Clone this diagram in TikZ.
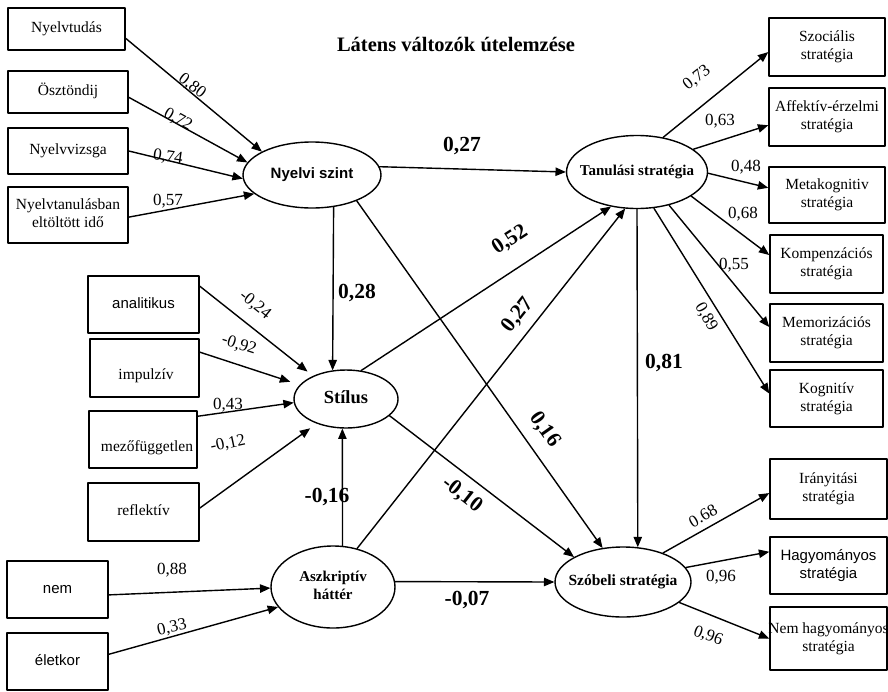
\documentclass[tikz,border=0pt]{standalone}
\usepackage{fontspec}
\setmainfont{Liberation Serif}
\setsansfont{Liberation Sans}
\usetikzlibrary{arrows,shapes.geometric}
\newcommand{\boxlines}[1]{\makebox[0pt]{\begin{tabular}{@{}c@{}}#1\end{tabular}}}
\tikzset{
  obs/.style={draw,rectangle,line width=1.6pt,inner sep=0pt,font=\fontsize{15.5}{18}\selectfont},
  obssf/.style={obs,font=\sffamily\fontsize{15}{18}\selectfont},
  txt/.style={inner sep=0pt,font=\fontsize{15.5}{18}\selectfont},
  lat/.style={draw,ellipse,line width=1.4pt,inner sep=0pt,font=\bfseries\fontsize{15}{18}\selectfont},
  wt/.style={inner sep=0pt,font=\fontsize{17}{20}\selectfont},
  coef/.style={inner sep=0pt,font=\bfseries\fontsize{21.5}{24}\selectfont},
  conn/.style={->,line width=1.4pt}
}
\begin{document}
\begin{tikzpicture}[line cap=round,line join=round,>=triangle 45,x=1pt,y=-1pt]
\useasboundingbox (0,0) rectangle (888,691);
\node[font=\bfseries\fontsize{20.5}{24}\selectfont] (title) at (456,45) {Látens változók útelemzése};
% bal oldali dobozok
\node[obs,minimum width=117pt,minimum height=42pt] (nyelvtudas) at (66.5,29) {\boxlines{Nyelvtudás}};
\node[obs,minimum width=120pt,minimum height=42pt] (osztondij) at (68,92) {\boxlines{Ösztöndij}};
\node[obs,minimum width=120pt,minimum height=46pt] (nyelvvizsga) at (68,151) {\boxlines{Nyelvvizsga}};
\node[obs,minimum width=120pt,minimum height=56pt] (nyelvtanulas) at (68,215) {\boxlines{Nyelvtanulásban\\eltöltött idő}};
\node[obssf,minimum width=111pt,minimum height=57pt] (analitikus) at (143.5,304.5) {\boxlines{analitikus}};
\node[obs,minimum width=109pt,minimum height=58pt] (impulziv) at (144.5,368) {};
\node[txt] (impulziv-t) at (146,376) {impulzív};
\node[obs,minimum width=108pt,minimum height=57pt] (mezofuggetlen) at (143,439.5) {};
\node[txt] (mezofuggetlen-t) at (147,448) {mezőfüggetlen};
\node[obs,minimum width=111pt,minimum height=58pt] (reflektiv) at (143.5,512) {\boxlines{reflektív}};
\node[obssf,minimum width=101pt,minimum height=57pt] (nem) at (57.5,589.5) {\boxlines{nem}};
\node[obssf,minimum width=101pt,minimum height=57pt] (eletkor) at (57.5,661.5) {\boxlines{életkor}};
% jobb oldali dobozok
\node[obs,minimum width=116pt,minimum height=58pt] (szocialis) at (827,47) {\boxlines{Szociális\\stratégia}};
\node[obs,minimum width=116pt,minimum height=58pt] (affektiv) at (827,117) {\boxlines{Affektív-érzelmi\\stratégia}};
\node[obs,minimum width=116pt,minimum height=56pt] (metakognitiv) at (827,195) {\boxlines{Metakognitiv\\stratégia}};
\node[obs,minimum width=113pt,minimum height=58pt] (kompenzacios) at (826.5,264) {\boxlines{Kompenzációs\\stratégia}};
\node[obs,minimum width=113pt,minimum height=58pt] (memorizacios) at (826.5,333) {\boxlines{Memorizációs\\stratégia}};
\node[obs,minimum width=113pt,minimum height=57pt] (kognitiv) at (826.5,398.5) {\boxlines{Kognitív\\stratégia}};
\node[obs,minimum width=117pt,minimum height=60pt] (iranyitasi) at (828.5,489) {\boxlines{Irányitási\\stratégia}};
\node[obssf,minimum width=117pt,minimum height=57pt] (hagyomanyos) at (828.5,565.5) {\boxlines{Hagyományos\\stratégia}};
\node[obs,minimum width=117pt,minimum height=63pt] (nemhagyomanyos) at (828.5,638.5) {\boxlines{Nem hagyományos\\stratégia}};
% latens valtozok
\node[lat,font=\sffamily\bfseries\fontsize{15}{18}\selectfont,minimum width=138pt,minimum height=66pt] (nyelvi) at (312,175) {\boxlines{Nyelvi szint}};
\node[lat,minimum width=141pt,minimum height=73pt] (tanulasi) at (637,172) {\boxlines{Tanulási stratégia}};
\node[lat,font=\bfseries\fontsize{18.5}{22}\selectfont,minimum width=104pt,minimum height=58pt] (stilus) at (346,399) {\boxlines{Stílus}};
\node[lat,minimum width=124pt,minimum height=82pt] (aszkriptiv) at (333,587) {\boxlines{Aszkriptív\\háttér}};
\node[lat,font=\bfseries\fontsize{15.5}{18}\selectfont,minimum width=136pt,minimum height=70pt] (szobeli) at (623,582) {\boxlines{Szóbeli stratégia}};
% nyilak
\draw[conn] (nyelvtudas.351) -- (nyelvi.155);
\draw[conn] (osztondij.355) -- (nyelvi.169);
\draw[conn] (nyelvvizsga.east) -- (nyelvi.183);
\draw[conn] (nyelvtanulas.358) -- (nyelvi.198);
\draw[conn] (nyelvi.7) -- (tanulasi.180);
\draw[conn] (nyelvi.304) -- (stilus.115);
\draw[conn] (nyelvi.330) -- (szobeli.121);
\draw[conn] (tanulasi.53) -- (szocialis.185);
\draw[conn] (tanulasi.22) -- (affektiv.188);
\draw[conn] (tanulasi.359) -- (metakognitiv.173);
\draw[conn] (tanulasi.336) -- (kompenzacios.171);
\draw[conn] (tanulasi.314) -- (memorizacios.174);
\draw[conn] (tanulasi.295) -- (kognitiv.175);
\draw[conn] (tanulasi.270) -- (szobeli.67);
\draw[conn,shorten >=7pt] (analitikus.18) -- (stilus.145);
\draw[conn,shorten >=10pt] (impulziv.16) -- (stilus.163);
\draw[conn] (mezofuggetlen.23) -- (stilus.184);
\draw[conn,shorten >=8pt] (reflektiv.4) -- (stilus.220);
\draw[conn] (stilus.62) -- (tanulasi.233);
\draw[conn] (stilus.339) -- (szobeli.153);
\draw[conn] (aszkriptiv.77) -- (stilus.263);
\draw[conn] (aszkriptiv.58) -- (tanulasi.252);
\draw[conn] (aszkriptiv.5) -- (szobeli.180);
\draw[conn] (nem.354) -- (aszkriptiv.181);
\draw[conn] (eletkor.8) -- (aszkriptiv.200);
\draw[conn] (szobeli.36) -- (iranyitasi.184);
\draw[conn] (szobeli.13) -- (hagyomanyos.167);
\draw[conn] (szobeli.340) -- (nemhagyomanyos.180);
% egyutthatok
\node[wt,rotate=-38] (w-nyelvtudas) at (192,86) {0,80};
\node[wt,rotate=-29] (w-osztondij) at (178,120) {0,72};
\node[wt,rotate=-8] (w-nyelvvizsga) at (168,157) {0,74};
\node[wt] (w-nyelvtanulas) at (168,201) {0,57};
\node[coef] (c-nyelvi-tanulasi) at (462,146) {0,27};
\node[wt,rotate=38] (w-szocialis) at (697,78) {0,73};
\node[wt] (w-affektiv) at (720,121) {0,63};
\node[wt] (w-metakognitiv) at (746,167) {0,48};
\node[wt] (w-kompenzacios) at (743,214) {0,68};
\node[wt] (w-memorizacios) at (734,265) {0,55};
\node[wt,rotate=-60] (w-kognitiv) at (706,317) {0,89};
\node[coef,rotate=33] (c-stilus-tanulasi) at (510,240) {0,52};
\node[coef] (c-nyelvi-stilus) at (357,293) {0,28};
\node[coef,rotate=-55] (c-nyelvi-szobeli) at (545,430) {0,16};
\node[coef,rotate=52] (c-aszkriptiv-tanulasi) at (518,315) {0,27};
\node[coef] (c-tanulasi-szobeli) at (664,363) {0,81};
\node[wt,rotate=-39] (w-analitikus) at (255,305) {-0,24};
\node[wt,rotate=-18] (w-impulziv) at (239,345) {-0,92};
\node[wt] (w-mezofuggetlen) at (228,405) {0,43};
\node[wt,rotate=12] (w-reflektiv) at (228,444) {-0,12};
\node[coef] (c-aszkriptiv-stilus) at (327,497) {-0,16};
\node[coef,rotate=-38] (c-stilus-szobeli) at (462,495) {-0,10};
\node[coef] (c-aszkriptiv-szobeli) at (467,600) {-0,07};
\node[wt] (w-nem) at (172,570) {0,88};
\node[wt,rotate=12] (w-eletkor) at (172,628) {0,33};
\node[wt,rotate=30] (w-iranyitasi) at (703,516) {0.68};
\node[wt] (w-hagyomanyos) at (721,577) {0,96};
\node[wt,rotate=-20] (w-nemhagyomanyos) at (708,636) {0,96};
\end{tikzpicture}
\end{document}
